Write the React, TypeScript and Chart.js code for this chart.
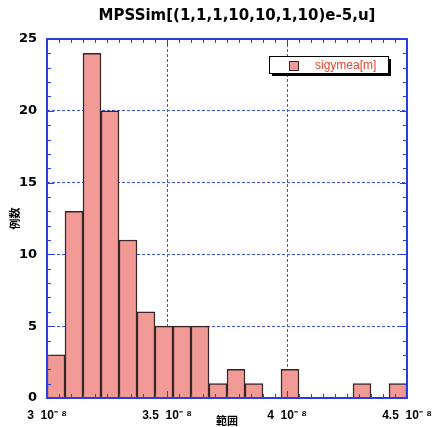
import React, { useEffect, useRef } from "react";
import { Chart, registerables } from "chart.js";

Chart.register(...registerables);

const titleText = "MPSSim[(1,1,1,10,10,1,10)e-5,u]";
const seriesLabel = "sigymea[m]";
const xAxisTitle = "範囲";
const yAxisTitle = "例数";
// histogram bin left edges, in units of 1e-8 m
const binStarts = [3.0, 3.075, 3.15, 3.225, 3.3, 3.375, 3.45, 3.525, 3.6, 3.675, 3.75, 3.825, 3.9, 3.975, 4.05, 4.125, 4.2, 4.275, 4.35, 4.425];
const binWidth = 0.075;
const counts = [3, 13, 24, 20, 11, 6, 5, 5, 5, 1, 2, 1, 0, 2, 0, 0, 0, 1, 0, 1];
const xMin = 3;
const xMax = 4.5;
const xStep = 0.5;
const xMinorStep = 0.05;
const tickExponent = "10⁻ ⁸";
const yMin = 0;
const yMax = 25;
const yStep = 5;
const yMinorStep = 1;

const BLUE = "#2a3fe0";
const GRID = "#3a55ee";
const BAR_FILL = "#f29a95";
const BAR_EDGE = "#3a2626";
const LEGEND_TEXT = "#e8432c";

const decorPlugin = {
  id: "decor",
  afterDatasetsDraw(chart: any) {
    const { ctx, chartArea: a, scales } = chart;
    const x = scales.x;
    const y = scales.y;
    ctx.save();
    ctx.strokeStyle = BLUE;
    ctx.lineWidth = 1;
    const nx = Math.round((xMax - xMin) / xMinorStep);
    for (let i = 0; i <= nx; i++) {
      const px = Math.round(x.getPixelForValue(xMin + i * xMinorStep)) + 0.5;
      const len = i % 10 === 0 ? 7 : 4;
      ctx.beginPath();
      ctx.moveTo(px, a.top);
      ctx.lineTo(px, a.top + len);
      ctx.moveTo(px, a.bottom);
      ctx.lineTo(px, a.bottom - len);
      ctx.stroke();
    }
    const ny = Math.round((yMax - yMin) / yMinorStep);
    for (let i = 0; i <= ny; i++) {
      const py = Math.round(y.getPixelForValue(yMin + i * yMinorStep)) + 0.5;
      const len = i % 5 === 0 ? 7 : 4;
      ctx.beginPath();
      ctx.moveTo(a.left, py);
      ctx.lineTo(a.left + len, py);
      ctx.moveTo(a.right, py);
      ctx.lineTo(a.right - len, py);
      ctx.stroke();
    }
    ctx.lineWidth = 2;
    ctx.strokeRect(a.left, a.top, a.right - a.left, a.bottom - a.top);
    ctx.restore();
  },
  afterDraw(chart: any) {
    const { ctx, chartArea: a } = chart;
    ctx.save();
    // title
    ctx.fillStyle = "#000";
    ctx.font = "bold 15px 'DejaVu Sans', sans-serif";
    ctx.textAlign = "center";
    ctx.textBaseline = "middle";
    ctx.fillText(titleText, 237, 16);
    // legend
    const bx = a.right - 138;
    const by = a.top + 17;
    const bw = 119;
    const bh = 17;
    ctx.fillStyle = "#000";
    ctx.fillRect(bx + 3, by + 3, bw, bh);
    ctx.fillStyle = "#fff";
    ctx.fillRect(bx, by, bw, bh);
    ctx.strokeStyle = "#000";
    ctx.lineWidth = 1;
    ctx.strokeRect(bx + 0.5, by + 0.5, bw, bh);
    ctx.fillStyle = BAR_FILL;
    ctx.fillRect(bx + 20, by + 5, 9, 9);
    ctx.strokeStyle = BAR_EDGE;
    ctx.strokeRect(bx + 20.5, by + 5.5, 9, 9);
    ctx.fillStyle = LEGEND_TEXT;
    ctx.font = "12px 'Liberation Sans', Arial, sans-serif";
    ctx.textAlign = "left";
    ctx.textBaseline = "middle";
    ctx.fillText(seriesLabel, bx + 46, by + 9.5);
    ctx.restore();
  },
};

export default function App() {
  const ref = useRef<HTMLCanvasElement | null>(null);
  useEffect(() => {
    if (!ref.current) return;
    const data = binStarts.map((s, i) => ({ x: s + binWidth / 2, y: counts[i] }));
    const chart = new Chart(ref.current, {
      type: "bar",
      data: {
        datasets: [
          {
            label: seriesLabel,
            data,
            backgroundColor: BAR_FILL,
            borderColor: BAR_EDGE,
            borderWidth: 1.5,
            borderSkipped: "bottom",
            barPercentage: 1,
            categoryPercentage: 1,
          },
        ],
      },
      options: {
        animation: false,
        responsive: true,
        maintainAspectRatio: false,
        layout: { padding: { top: 39, right: 33, left: 0, bottom: 0 } },
        plugins: {
          legend: { display: false },
          title: { display: false },
          tooltip: { enabled: false },
        },
        scales: {
          x: {
            type: "linear",
            min: xMin,
            max: xMax,
            offset: false,
            afterFit: (s: any) => {
              s.height = 29;
              s.paddingLeft = 0;
              s.paddingRight = 0;
            },
            ticks: {
              stepSize: xStep,
              autoSkip: false,
              maxRotation: 0,
              padding: 10,
              color: "#000",
              font: { family: "'Liberation Sans', Arial, sans-serif", size: 12, weight: "bold" },
              callback: (v: any) => `${+Number(v).toFixed(2)}  ${tickExponent}`,
            },
            grid: {
              offset: false,
              drawTicks: false,
              lineWidth: (c: any) => (c.tick && c.tick.value > xMin && c.tick.value < xMax ? 1 : 0),
              color: GRID,
            },
            border: { display: false, dash: [3, 2] },
            title: {
              display: true,
              text: xAxisTitle,
              color: "#000",
              padding: { top: 0, bottom: 0 },
              font: { family: "'Noto Sans CJK JP', sans-serif", size: 11, weight: "bold" },
            },
          },
          y: {
            type: "linear",
            min: yMin,
            max: yMax,
            afterFit: (s: any) => {
              s.width = 47;
              s.paddingTop = 0;
              s.paddingBottom = 0;
            },
            ticks: {
              stepSize: yStep,
              padding: 10,
              color: "#000",
              font: { family: "'DejaVu Sans', sans-serif", size: 13, weight: "bold" },
            },
            grid: {
              drawTicks: false,
              lineWidth: (c: any) => (c.tick && c.tick.value > yMin && c.tick.value < yMax ? 1 : 0),
              color: GRID,
            },
            border: { display: false, dash: [3, 2] },
            title: {
              display: true,
              text: yAxisTitle,
              color: "#000",
              padding: { top: 8, bottom: 0 },
              font: { family: "'Noto Sans CJK JP', sans-serif", size: 11, weight: "bold" },
            },
          },
        },
      },
      plugins: [decorPlugin],
    });
    return () => chart.destroy();
  }, []);
  return (
    <div style={{ position: "absolute", left: 0, top: 0, width: 440, height: 427 }}>
      <canvas ref={ref} />
    </div>
  );
}
